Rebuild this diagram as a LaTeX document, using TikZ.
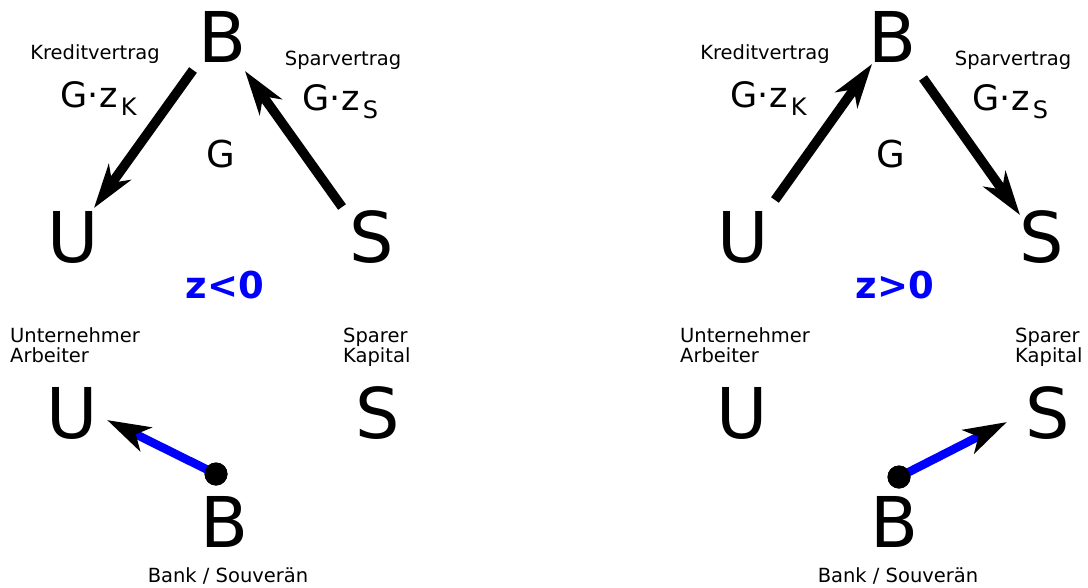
\documentclass[tikz,border=0pt]{standalone}
\usepackage{fontspec}
\setmainfont{DejaVu Sans}
\usetikzlibrary{arrows.meta}
\definecolor{zblue}{RGB}{0,0,255}
\tikzset{
  big/.style={inner sep=0pt, anchor=base, font=\fontsize{70}{84}\selectfont},
  small/.style={inner sep=0pt, font=\fontsize{19.5}{20}\selectfont, align=left},
  mid/.style={inner sep=0pt, anchor=base west, font=\fontsize{35}{40}\selectfont},
  gmid/.style={inner sep=0pt, anchor=base, font=\fontsize{37}{40}\selectfont},
  zlab/.style={inner sep=0pt, anchor=base, text=zblue, font=\fontsize{37}{40}\selectfont\bfseries},
  contract/.style={line width=9.5pt, -{Stealth[length=44pt,width=27pt,inset=13pt]}},
  flow/.style={line width=8.5pt, zblue, -{Stealth[length=43pt,width=26pt,inset=11pt,color=black]}},
  dot/.style={circle, fill=black, inner sep=0pt, minimum size=23pt}
}
\newcommand{\gz}[1]{G·\kern1pt z\kern3pt\raisebox{-8pt}{\fontsize{24}{24}\selectfont #1}}
\begin{document}
\begin{tikzpicture}[x=1pt,y=-1pt]
\useasboundingbox (0,0) rectangle (1088,587);
% ---------- left panel ----------
\node[big] (B1) at (223,62) {B};
\node[big] (U1) at (73,262) {U};
\node[big] (S1) at (372,262) {S};
\node[small, anchor=base] (kv1) at (95,59) {Kreditvertrag};
\node[small, anchor=base] (sv1) at (343,65) {Sparvertrag};
\node[mid] (gk1) at (60,107) {\gz{K}};
\node[mid] (gs1) at (302,110) {\gz{S}};
\node[gmid] (g1) at (221,167) {G};
\node[zlab] (z1) at (225,298) {z<0};
\node[small, anchor=base west] (ua1) at (10,362) {Unternehmer\\Arbeiter};
\node[small, anchor=base west] (sk1) at (343,362) {Sparer\\Kapital};
\node[big] (Ub1) at (72,438) {U};
\node[big] (Sb1) at (378,438) {S};
\node[big] (Bb1) at (225,547) {B};
\node[small, anchor=base] (bs1) at (228,582) {Bank / Souverän};
\coordinate (a1s) at (193,70);
\coordinate (a1e) at (94,208);
\coordinate (a2s) at (342,207);
\coordinate (a2e) at (245,71);
\coordinate (f1e) at (107,420);
\draw[contract] (a1s) -- (a1e);
\draw[contract] (a2s) -- (a2e);
\node[dot] (d1) at (216,474) {};
\draw[flow] (d1.center) -- (f1e);
\node[dot] at (216,474) {};
% ---------- right panel ----------
\node[big] (B2) at (893,62) {B};
\node[big] (U2) at (743,262) {U};
\node[big] (S2) at (1042,262) {S};
\node[small, anchor=base] (kv2) at (765,59) {Kreditvertrag};
\node[small, anchor=base] (sv2) at (1013,65) {Sparvertrag};
\node[mid] (gk2) at (730,107) {\gz{K}};
\node[mid] (gs2) at (972,110) {\gz{S}};
\node[gmid] (g2) at (891,167) {G};
\node[zlab] (z2) at (895,298) {z>0};
\node[small, anchor=base west] (ua2) at (680,362) {Unternehmer\\Arbeiter};
\node[small, anchor=base west] (sk2) at (1015,362) {Sparer\\Kapital};
\node[big] (Ub2) at (742,438) {U};
\node[big] (Sb2) at (1048,438) {S};
\node[big] (Bb2) at (895,547) {B};
\node[small, anchor=base] (bs2) at (898,582) {Bank / Souverän};
\coordinate (a3s) at (775,200);
\coordinate (a3e) at (872,64);
\coordinate (a4s) at (923,78);
\coordinate (a4e) at (1020,215);
\coordinate (f2e) at (1007,422);
\draw[contract] (a3s) -- (a3e);
\draw[contract] (a4s) -- (a4e);
\node[dot] (d2) at (899,477) {};
\draw[flow] (d2.center) -- (f2e);
\node[dot] at (899,477) {};
\end{tikzpicture}
\end{document}
